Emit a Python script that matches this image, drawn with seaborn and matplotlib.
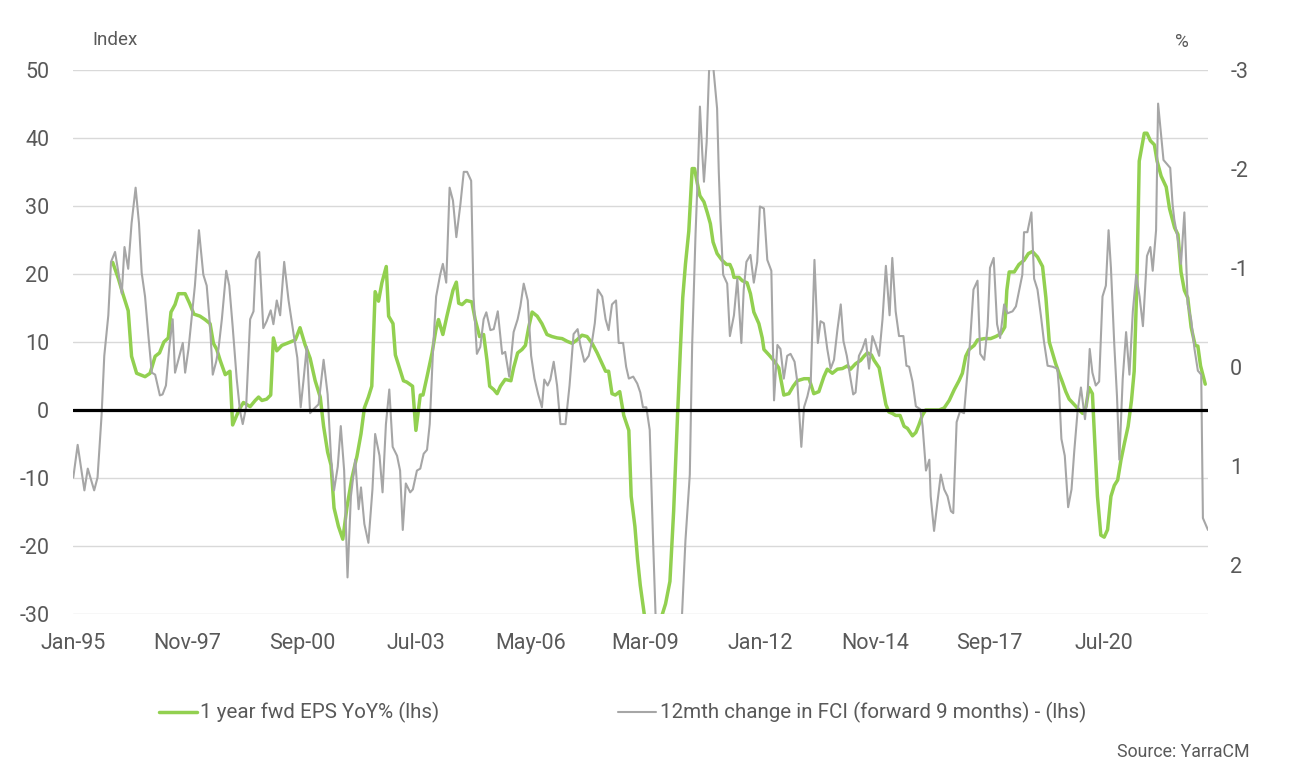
import numpy as np
import pandas as pd
import seaborn as sns
import matplotlib.pyplot as plt
import matplotlib.transforms as mtransforms

# months since Jan-95 and values
eps_month = [11.8, 13.5, 14.8, 16.4, 17.4, 18.9, 21.4, 22.9, 24.4, 25.7, 27.0, 28.3, 29.1, 30.3, 31.3, 33.3,
             34.6, 35.9, 37.7, 39.2, 40.7, 41.7, 42.7, 43.7, 45.2, 46.6, 47.4, 48.6, 49.6, 50.6, 52.6,
             54.1, 55.1, 56.1, 57.5, 58.7, 59.5, 60.5, 62.0, 64.0, 66.0, 67.4, 68.9, 70.4, 71.9, 73.4,
             74.4, 75.6, 76.6, 77.5, 78.8, 80.1, 81.3, 82.8, 84.3, 85.5, 86.5, 87.7, 88.7, 89.7, 90.7,
             91.7, 93.0, 93.7, 95.0, 95.7, 96.9, 98.1, 99.1, 100.8, 101.8, 103.1, 103.9, 105.1, 106.6,
             107.7, 108.5, 109.8, 111.0, 112.8, 113.8, 114.5, 115.5, 116.8, 118.4, 119.4, 120.7, 121.9,
             122.9, 123.7, 124.9, 125.9, 126.9, 128.3, 130.0, 130.8, 132.0, 133.3, 134.3, 135.3, 136.3,
             137.8, 139.2, 140.7, 142.2, 143.7, 145.2, 146.7, 148.2, 149.6, 151.1, 152.6, 154.1, 155.6,
             157.1, 158.1, 159.0, 160.0, 161.0, 162.3, 163.5, 165.0, 165.7, 166.8, 167.6, 168.4, 169.6,
             171.5, 173.0, 174.9, 175.9, 177.2, 178.3, 179.5, 180.3, 181.0, 181.8, 182.8, 183.8, 184.5,
             185.3, 186.1, 187.3, 188.3, 189.2, 190.0, 191.2, 192.7, 194.0, 195.0, 195.7, 196.2, 197.7,
             198.7, 200.1, 201.1, 202.1, 203.6, 204.6, 205.1, 206.6, 208.0, 209.5, 211.0, 212.5, 213.8,
             215.0, 217.0, 218.5, 219.9, 221.4, 222.9, 223.9, 225.4, 226.9, 228.4, 229.9, 230.8, 232.3,
             233.8, 234.8, 235.8, 237.0, 237.8, 239.3, 240.3, 241.3, 242.2, 243.2, 244.2, 245.5, 246.7,
             247.7, 249.2, 250.2, 251.1, 252.1, 253.1, 255.1, 257.1, 258.6, 260.1, 261.6, 263.0, 264.0,
             265.0, 266.0, 267.5, 268.5, 270.5, 272.4, 273.9, 275.4, 276.6, 277.2, 277.9, 279.4, 280.8,
             282.3, 283.6, 284.8, 286.3, 287.8, 288.8, 289.8, 291.7, 292.7, 293.7, 294.7, 295.7, 297.2,
             298.7, 299.7, 300.7, 301.6, 302.6, 303.4, 304.1, 305.1, 306.1, 307.1, 308.1, 309.1, 310.1,
             311.1, 312.1, 313.2, 314.2, 315.0, 315.8, 316.5, 318.0, 318.8, 319.8, 321.0, 321.8, 323.0,
             324.5, 325.5, 327.0, 328.0, 328.9, 329.9, 330.9, 331.9, 333.1, 333.9, 334.7, 336.1]
eps_yoy = [21.7, 19.3, 17.1, 14.6, 7.9, 5.4, 4.9, 5.4, 7.9, 8.4, 10.0, 10.6, 14.4, 15.5, 17.1, 17.1,
           15.7, 14.1, 13.8, 13.3, 12.7, 9.8, 8.9, 7.3, 5.2, 5.7, -2.2, -0.8, 0.3, 1.1, 0.5,
           1.4, 1.9, 1.4, 1.6, 2.2, 10.6, 8.7, 9.5, 9.9, 10.3, 12.1, 9.6, 7.6, 4.3, 1.9,
           -2.4, -6.2, -8.1, -14.4, -17.1, -19.0, -14.4, -10.0, -6.8, -3.5, 0.3, 1.9, 3.5, 17.4, 16.0,
           18.7, 21.1, 13.8, 12.7, 8.1, 6.2, 4.3, 4.1, 3.5, -3.0, 2.2, 2.2, 4.9, 8.4,
           11.7, 13.3, 11.1, 13.8, 17.6, 18.8, 15.7, 15.5, 16.1, 15.9, 13.3, 10.8, 11.1,
           7.3, 3.5, 3.0, 2.4, 3.5, 4.5, 4.3, 6.2, 8.4, 8.9, 9.5, 12.2, 14.4,
           13.8, 12.7, 11.1, 10.8, 10.6, 10.5, 10.1, 9.8, 10.3, 11.0, 10.8, 9.8, 8.4,
           6.8, 5.7, 5.7, 2.4, 2.2, 2.7, -0.8, -3.0, -12.7, -17.1, -22.0, -25.8, -30.1,
           -36.0, -37.0, -30.1, -28.5, -25.2, -14.9, -0.3, 8.9, 16.5, 21.4, 26.3, 35.5, 35.5,
           33.4, 31.5, 30.6, 29.0, 27.4, 24.7, 23.0, 22.0, 21.4, 21.4, 20.6, 19.5, 19.5,
           19.0, 18.7, 17.1, 14.4, 12.7, 10.6, 8.9, 8.1, 7.3, 6.2, 2.2, 2.4, 3.5,
           4.3, 4.6, 4.6, 2.4, 2.7, 4.9, 6.0, 5.4, 6.0, 6.1, 6.5, 6.0, 6.8,
           7.3, 7.9, 8.4, 8.1, 7.3, 6.2, 3.5, 0.8, -0.3, -0.5, -0.8, -0.8, -2.4,
           -2.7, -3.8, -3.3, -2.2, -0.8, 0.0, 0.0, 0.0, 0.3, 1.4, 3.0, 4.3, 5.4,
           7.9, 8.9, 9.5, 10.3, 10.5, 10.5, 10.8, 11.2, 12.2, 17.6, 20.3, 20.3, 21.4,
           22.0, 23.0, 23.3, 22.5, 21.1, 16.5, 10.0, 6.8, 5.4, 4.1, 2.7, 1.6, 0.8,
           0.0, -0.5, 0.5, 3.3, 2.4, -5.7, -12.7, -18.4, -18.7, -17.6, -12.7, -11.1, -10.3,
           -7.3, -4.9, -2.4, 1.4, 5.7, 18.7, 36.6, 40.7, 40.7, 39.6, 39.0, 36.6, 34.4,
           32.8, 29.6, 26.8, 25.8, 20.3, 17.6, 16.5, 12.2, 9.5, 9.4, 6.5, 3.8]

fci_month = [0.1, 1.4, 3.4, 4.4, 6.3, 7.3, 8.5, 9.3, 10.5, 11.3, 12.5, 13.5, 14.5, 15.3, 16.4, 17.4,
             18.6, 19.6, 20.4, 21.4, 22.4, 23.4, 24.4, 25.8, 26.6, 27.6, 28.6, 29.6, 30.3, 31.6, 32.6,
             33.3, 34.3, 35.3, 36.2, 37.4, 38.7, 39.7, 40.7, 41.5, 42.5, 43.2, 44.2, 45.5, 46.4, 47.4,
             48.6, 49.6, 50.4, 51.4, 52.6, 53.6, 54.3, 55.3, 56.5, 57.5, 58.7, 59.5, 60.5, 61.5, 62.7,
             64.0, 65.5, 66.6, 67.6, 68.4, 69.4, 70.4, 71.4, 72.9, 74.4, 75.6, 76.6, 77.5, 78.6, 79.5,
             80.5, 81.5, 82.5, 83.8, 84.8, 85.5, 86.5, 87.7, 88.9, 89.7, 91.0, 91.9, 92.9, 93.9, 94.9,
             96.2, 97.1, 97.9, 98.8, 100.1, 100.9, 102.1, 103.1, 104.1, 105.1, 105.9, 106.9, 107.8,
             109.0, 109.8, 110.8, 111.8, 112.8, 113.8, 115.0, 116.0, 117.0, 118.2, 118.9, 119.9, 120.9,
             121.9, 122.7, 123.9, 124.9, 126.1, 127.4, 128.3, 129.5, 130.8, 132.0, 132.8, 133.8, 135.0,
             136.0, 137.0, 138.1, 139.2, 139.9, 140.9, 141.7, 142.7, 143.7, 144.7, 146.2, 147.4, 148.6,
             149.8, 150.6, 151.8, 153.1, 154.1, 154.9, 155.8, 157.1, 158.1, 159.0, 160.0, 161.2, 162.0,
             163.3, 164.2, 165.0, 166.3, 167.5, 168.4, 169.2, 170.2, 171.2, 172.2, 174.0, 176.5, 179.0,
             180.8, 181.8, 183.1, 183.8, 184.8, 185.5, 186.1, 186.8, 187.3, 188.1, 188.8, 189.5, 190.2,
             191.2, 191.7, 192.2, 193.0, 194.2, 195.0, 196.2, 197.2, 198.4, 199.1, 199.9, 201.1, 202.1,
             203.1, 203.9, 205.1, 206.1, 207.3, 208.1, 209.1, 210.0, 211.0, 212.0, 213.0, 214.2, 215.0,
             216.2, 217.0, 218.0, 219.0, 220.1, 221.1, 221.9, 222.9, 223.9, 224.9, 225.9, 226.9, 227.9,
             228.7, 229.7, 230.8, 231.6, 232.3, 233.3, 234.3, 235.3, 236.3, 237.3, 238.3, 239.3, 240.3,
             241.3, 242.4, 243.2, 244.2, 245.2, 246.5, 247.4, 248.2, 249.2, 250.2, 251.5, 252.2, 253.2,
             254.2, 254.6, 255.6, 256.6, 257.6, 258.6, 259.6, 260.6, 261.3, 262.3, 263.3, 264.5, 265.3,
             266.3, 267.3, 268.5, 269.3, 270.5, 271.5, 272.2, 273.3, 274.3, 275.2, 276.4, 277.4, 278.9,
             279.9, 280.8, 281.8, 282.3, 283.3, 284.5, 285.3, 286.3, 287.3, 288.2, 289.3, 290.8, 292.2,
             292.7, 293.4, 294.4, 295.4, 296.4, 297.2, 298.2, 299.2, 300.4, 301.2, 301.8, 302.6, 303.6,
             304.6, 305.6, 306.6, 307.4, 308.1, 309.1, 309.9, 310.6, 311.6, 312.6, 313.6, 314.6, 315.6,
             316.6, 317.6, 318.8, 319.8, 320.5, 321.5, 322.1, 322.9, 323.7, 324.7, 325.7, 326.4, 326.9,
             327.9, 328.9, 329.9, 330.9, 331.9, 332.9, 333.9, 334.9, 335.4, 336.9]
fci_change = [1.12, 0.79, 1.25, 1.03, 1.25, 1.12, 0.49, -0.11, -0.52, -1.06, -1.16, -0.95, -0.74, -1.21, -0.99, -1.45,
              -1.81, -1.45, -0.95, -0.71, -0.31, 0.06, 0.08, 0.29, 0.28, 0.19, -0.20, -0.48, 0.06, -0.11, -0.24,
              0.06, -0.18, -0.52, -0.82, -1.38, -0.93, -0.82, -0.41, 0.08, -0.05, -0.18, -0.48, -0.97, -0.82, -0.41,
              0.12, 0.45, 0.58, 0.41, -0.48, -0.56, -1.08, -1.16, -0.39, -0.46, -0.57, -0.43, -0.67, -0.52, -1.06,
              -0.67, -0.33, -0.09, 0.41, 0.15, -0.20, 0.47, 0.43, 0.38, -0.07, 0.28, 0.92, 1.25, 1.01, 0.60,
              1.05, 2.13, 1.31, 0.94, 1.44, 1.22, 1.59, 1.78, 1.24, 0.68, 0.90, 1.27, 0.58, 0.23, 0.81,
              0.90, 1.05, 1.65, 1.18, 1.27, 1.24, 1.05, 1.03, 0.88, 0.84, 0.58, -0.18, -0.71,
              -0.93, -1.04, -0.85, -1.81, -1.68, -1.31, -1.64, -1.97, -1.97, -1.88, -0.71, -0.13, -0.20,
              -0.48, -0.55, -0.37, -0.38, -0.56, -0.13, -0.15, 0.10, -0.35, -0.48, -0.61, -0.84, -0.67,
              -0.11, 0.12, 0.28, 0.41, 0.13, 0.19, 0.13, -0.05, 0.19, 0.58, 0.58, 0.19, -0.33,
              -0.38, -0.22, -0.05, -0.11, -0.26, -0.44, -0.78, -0.71, -0.48, -0.37, -0.63, -0.67, -0.24,
              -0.24, 0.00, 0.12, 0.10, 0.17, 0.26, 0.41, 0.41, 0.64, 1.76, 3.6, 4.6, 3.9,
              2.5, 1.76, 1.09, -0.22, -1.34, -1.97, -2.63, -2.16, -1.87, -2.27, -2.98, -3.3, -2.98,
              -2.61, -1.97, -1.49, -0.93, -0.84, -0.31, -0.52, -0.89, -0.24, -0.78, -1.06, -1.13, -0.85,
              -1.06, -1.62, -1.60, -1.08, -0.97, 0.34, -0.22, -0.18, 0.12, -0.11, -0.13, -0.05, 0.15,
              0.81, 0.41, 0.30, 0.15, -1.08, -0.24, -0.46, -0.44, -0.18, 0.02, -0.07, -0.37, -0.63,
              -0.26, -0.11, 0.12, 0.28, 0.26, -0.11, -0.18, -0.28, 0.02, -0.31, -0.22, -0.11, -0.48,
              -1.02, -0.52, -1.10, -0.56, -0.31, -0.31, -0.01, 0.00, 0.15, 0.40, 0.43, 0.60, 1.05,
              0.94, 1.31, 1.66, 1.37, 1.09, 1.24, 1.31, 1.46, 1.48, 0.56, 0.45, 0.47, 0.15,
              -0.26, -0.78, -0.87, -0.13, -0.07, -0.41, -1.00, -1.10, -0.43, -0.29, -0.63, -0.54, -0.56,
              -0.61, -0.76, -0.93, -1.36, -1.36, -1.56, -0.89, -0.78, -0.52, -0.26, -0.01, 0.00, 0.02,
              0.23, 0.73, 0.90, 1.42, 1.24, 0.86, 0.45, 0.21, 0.53, 0.26, -0.18, 0.06, 0.19,
              0.15, -0.71, -0.82, -1.38, -1.00, -0.22, 0.30, 0.94, 0.12, -0.35, 0.08, -0.56, -0.93,
              -0.71, -0.41, -1.12, -1.21, -0.97, -1.38, -2.66, -2.37, -2.09, -2.05, -2.01, -1.64, -1.49,
              -1.30, -1.04, -1.56, -0.63, -0.48, -0.18, 0.04, 0.08, 1.53, 1.65]

tick_labels = ['Jan-95', 'Nov-97', 'Sep-00', 'Jul-03', 'May-06', 'Mar-09', 'Jan-12', 'Nov-14', 'Sep-17', 'Jul-20']
left_ticks = [-30, -20, -10, 0, 10, 20, 30, 40, 50]
right_ticks = [-3, -2, -1, 0, 1, 2]

GREEN = '#92d050'
GREY = '#a6a6a6'
TXT = '#595959'

start = pd.Timestamp('1995-01-01')


def to_dates(months):
    return start + pd.to_timedelta(np.array(months) * 30.4375, unit='D')


eps = pd.DataFrame({'date': to_dates(eps_month), 'value': eps_yoy})
fci = pd.DataFrame({'date': to_dates(fci_month), 'value': fci_change})

sns.set_theme(style='white')
plt.rcParams['font.family'] = ['Roboto', 'DejaVu Sans']
plt.rcParams['axes.unicode_minus'] = False

fig = plt.figure(figsize=(13.12, 7.8), dpi=100)
ax = fig.add_axes([0.0556, 0.2128, 0.8651, 0.6975])
ax2 = ax.twinx()

sns.lineplot(data=eps, x='date', y='value', ax=ax, color=GREEN, linewidth=2.5,
             label='1 year fwd EPS YoY% (lhs)', legend=False)
sns.lineplot(data=fci, x='date', y='value', ax=ax2, color=GREY, linewidth=1.5,
             label='12mth change in FCI (forward 9 months) - (lhs)', legend=False)

# zero line of the left axis, drawn above both series
trans = mtransforms.blended_transform_factory(ax2.transAxes, ax.transData)
ax2.plot([0, 1], [0, 0], transform=trans, color='black', linewidth=2.3, zorder=5)

ax.set_ylim(-30, 50)
ax.set_yticks(left_ticks)
ax2.set_ylim(2.5, -3)
ax2.set_yticks(right_ticks)

tick_dates = pd.date_range(start, periods=len(tick_labels), freq='34MS')
ax.set_xticks(tick_dates)
ax.set_xticklabels(tick_labels)
ax.set_xlim(start, fci['date'].iloc[-1])

ax.grid(axis='y', color='#d9d9d9', linewidth=1)
ax.grid(axis='x', visible=False)
ax2.grid(False)
for a in (ax, ax2):
    for s in a.spines.values():
        s.set_visible(False)
    a.set_xlabel('')
    a.set_ylabel('')

ax.tick_params(axis='y', length=0, pad=17, labelsize=15.5, labelcolor=TXT)
ax.tick_params(axis='x', length=0, pad=14, labelsize=15.5, labelcolor=TXT)
ax2.tick_params(axis='y', length=0, pad=16, labelsize=15.5, labelcolor=TXT)

fig.text(92 / 1312, 1 - 40 / 780, 'Index', fontsize=13.5, color=TXT, va='center', ha='left')
fig.text(1182 / 1312, 1 - 42 / 780, '%', fontsize=13.5, color=TXT, va='center', ha='center')
fig.text(1250 / 1312, 1 - 752 / 780, 'Source: YarraCM', fontsize=12.8, color=TXT, va='center', ha='right')

h1, l1 = ax.get_legend_handles_labels()
h2, l2 = ax2.get_legend_handles_labels()
fig.legend(h1 + h2, l1 + l2, loc='center', bbox_to_anchor=(0.4745, 0.086), ncol=2, frameon=False,
           fontsize=14.8, labelcolor=TXT, handlelength=1.85, handletextpad=0.15, columnspacing=8.7)

fig.savefig('out.png', dpi=100)
